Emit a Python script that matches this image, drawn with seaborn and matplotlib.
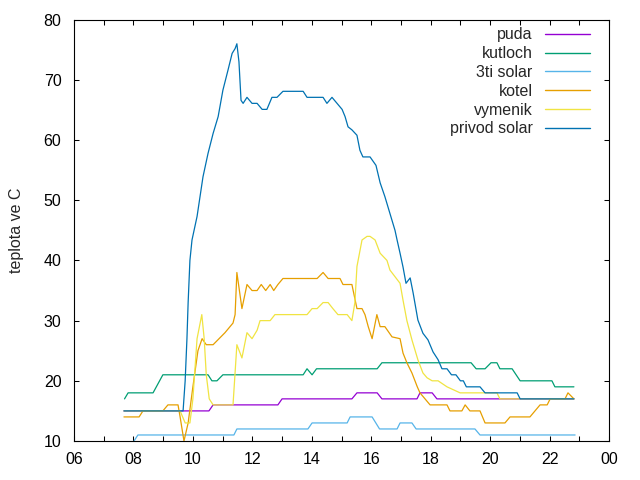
#!/usr/bin/env python3
# coding=utf-8
import matplotlib
matplotlib.use('Agg')
import matplotlib.pyplot as plt
import matplotlib.ticker as ticker
import pandas as pd
import seaborn as sns

# time of day in decimal hours, temperatures in C
puda_t = [7.68, 10.54, 10.68, 12.86, 13.00, 15.35, 15.52, 16.20, 16.36, 17.54, 17.64, 18.05, 18.21, 22.82]
puda_v = [15, 15, 16, 16, 17, 17, 18, 18, 17, 17, 18, 18, 17, 17]

kutloch_t = [7.70, 7.82, 8.66, 8.99, 10.51, 10.64, 10.81, 11.01, 13.71, 13.84, 14.01, 14.16,
             16.20, 16.36, 19.36, 19.53, 19.83, 20.03, 20.23, 20.33, 20.74, 21.01, 22.08, 22.18, 22.82]
kutloch_v = [17, 18, 18, 21, 21, 20, 20, 21, 21, 22, 21, 22,
             22, 23, 23, 22, 22, 23, 23, 22, 22, 20, 20, 19, 19]

solar3_t = [8.02, 8.15, 11.38, 11.48, 13.87, 14.01, 15.19, 15.29, 16.03, 16.28, 16.87, 16.97,
            17.37, 17.51, 19.49, 19.66, 22.86]
solar3_v = [10, 11, 11, 12, 12, 13, 13, 14, 14, 12, 12, 13,
            13, 12, 12, 11, 11]

kotel_t = [7.68, 8.19, 8.32, 8.99, 9.16, 9.50, 9.57, 9.70, 9.84, 10.00, 10.17, 10.31, 10.45, 10.68,
           11.08, 11.35, 11.42, 11.48, 11.65, 11.82, 11.99, 12.16, 12.30, 12.45, 12.60, 12.72, 12.86,
           13.03, 14.18, 14.38, 14.55, 14.95, 15.05, 15.35, 15.52, 15.69, 15.79, 15.90, 16.03, 16.19,
           16.30, 16.46, 16.70, 16.97, 17.07, 17.20, 17.37, 17.55, 17.64, 17.81, 17.98, 18.55, 18.65,
           19.05, 19.16, 19.32, 19.66, 19.83, 20.50, 20.67, 21.34, 21.51, 21.68, 21.92, 22.02, 22.52,
           22.62, 22.82]
kotel_v = [14, 14, 15, 15, 16, 16, 14, 10, 13, 19, 25, 27, 26, 26,
           28, 29.6, 31, 38, 32, 36, 35, 35, 36, 35, 36, 35, 36,
           37, 37, 38, 37, 37, 36, 36, 32, 32, 31, 29, 27, 31,
           29, 29, 27.3, 27, 24.6, 23, 21.3, 19, 18, 17, 16, 16, 15,
           15, 16, 15, 15, 13, 13, 14, 14, 15, 16, 16, 17, 17,
           18, 17]

vymenik_t = [7.68, 9.57, 9.74, 9.90, 10.00, 10.14, 10.30, 10.38, 10.45, 10.55, 10.68, 11.35, 11.48,
             11.65, 11.82, 11.99, 12.16, 12.26, 12.60, 12.76, 13.84, 14.01, 14.18, 14.38, 14.55, 14.71,
             14.88, 15.19, 15.35, 15.45, 15.52, 15.69, 15.86, 15.96, 16.13, 16.30, 16.53, 16.63, 16.80,
             16.97, 17.07, 17.20, 17.37, 17.57, 17.74, 17.88, 18.05, 18.25, 18.55, 18.99, 20.23, 20.33,
             22.82]
vymenik_v = [15, 15, 13, 13, 17, 27, 31, 27, 21, 17, 16, 16, 26,
             23.8, 28, 27, 28.4, 30, 30, 31, 31, 32, 32, 33, 33, 32,
             31, 31, 30, 33, 39, 43.4, 44, 44, 43.4, 41.2, 40, 38.4, 37.3,
             36.2, 33.4, 30, 26.8, 23.5, 21.3, 20.5, 20, 20, 19, 18, 18, 17,
             17]

privod_t = [7.68, 9.67, 9.74, 9.80, 9.84, 9.90, 9.97, 10.14, 10.34, 10.51, 10.68, 10.85, 11.01,
            11.18, 11.32, 11.42, 11.48, 11.55, 11.62, 11.69, 11.82, 11.99, 12.16, 12.33, 12.49, 12.66,
            12.83, 13.03, 13.71, 13.84, 14.38, 14.51, 14.68, 14.85, 15.02, 15.12, 15.22, 15.35, 15.52,
            15.62, 15.72, 15.96, 16.16, 16.30, 16.46, 16.63, 16.80, 16.87, 16.97, 17.07, 17.17, 17.31,
            17.41, 17.57, 17.74, 17.91, 18.08, 18.25, 18.38, 18.55, 18.70, 18.85, 19.00, 19.10, 19.20,
            19.66, 19.83, 20.91, 21.01, 22.82]
privod_v = [15, 15, 20, 27, 33, 40, 43.4, 47.3, 53.9, 57.8, 61.1, 63.9, 68.3,
            71.6, 74.4, 75.2, 76, 73, 66.6, 66.1, 67.1, 66.1, 66.1, 65.1, 65.1, 67.1,
            67.1, 68.1, 68.1, 67.1, 67.1, 66.1, 67.1, 66.1, 65.1, 63.9, 62.2, 61.7, 60.8,
            58.3, 57.2, 57.2, 55.8, 52.9, 50.6, 47.8, 45, 43.4, 41.2, 38.9, 36.2, 37.1,
            34.6, 30.1, 27.9, 26.8, 24.8, 23.5, 22, 22, 21, 21, 20, 20, 19,
            19, 18, 18, 17, 17]

order = ['puda', 'kutloch', '3ti solar', 'kotel', 'vymenik', 'privod solar']
palette = {'puda': '#9400d3', 'kutloch': '#009e73', '3ti solar': '#56b4e9',
           'kotel': '#e69f00', 'vymenik': '#f0e442', 'privod solar': '#0072b2'}

frames = []
for name, t, v in zip(order,
                      [puda_t, kutloch_t, solar3_t, kotel_t, vymenik_t, privod_t],
                      [puda_v, kutloch_v, solar3_v, kotel_v, vymenik_v, privod_v]):
    frames.append(pd.DataFrame({'cas': t, 'teplota': v, 'cidlo': name}))
df = pd.concat(frames, ignore_index=True)

sns.set_style('white', {'axes.edgecolor': 'black', 'xtick.direction': 'in', 'ytick.direction': 'in'})
plt.rcParams['font.family'] = ['Liberation Sans', 'DejaVu Sans']
plt.rcParams['font.size'] = 11.5

fig, ax = plt.subplots(figsize=(6.4, 4.8), dpi=100)
fig.subplots_adjust(left=74 / 640, right=609 / 640, bottom=1 - 441 / 480, top=1 - 19.7 / 480)

sns.lineplot(data=df, x='cas', y='teplota', hue='cidlo', hue_order=order, palette=palette,
             estimator=None, sort=False, linewidth=0.9, ax=ax)

ax.set_xlim(6, 24)
ax.set_ylim(10, 80)
ax.xaxis.set_major_locator(ticker.MultipleLocator(2))
ax.xaxis.set_minor_locator(ticker.MultipleLocator(1))
ax.xaxis.set_major_formatter(ticker.FuncFormatter(lambda x, pos: '%02d' % (int(round(x)) % 24)))
ax.yaxis.set_major_locator(ticker.MultipleLocator(10))
ax.tick_params(which='both', direction='in', top=True, right=True, bottom=True, left=True,
               length=3.3, width=0.75, colors='black', labelsize=11.5)
ax.tick_params(axis='x', pad=8)
ax.tick_params(axis='y', pad=9)
for s in ax.spines.values():
    s.set_linewidth(0.8)
    s.set_color('black')

ax.set_xlabel('')
ax.set_ylabel('teplota ve C', fontsize=11.5, labelpad=14)

old = ax.get_legend()
handles = old.legend_handles
labels = [t.get_text() for t in old.get_texts()]
old.remove()
leg = ax.legend(handles=handles, labels=labels, loc='upper right', bbox_to_anchor=(0.9645, 0.982),
                frameon=False, markerfirst=False, handlelength=2.8, handletextpad=0.8,
                labelspacing=0.24, borderpad=0, borderaxespad=0, fontsize=11.5)
leg._legend_box.align = 'right'
for h in leg.legend_handles:
    h.set_linewidth(1.0)

plt.savefig('out.png', dpi=100)
plt.close('all')
